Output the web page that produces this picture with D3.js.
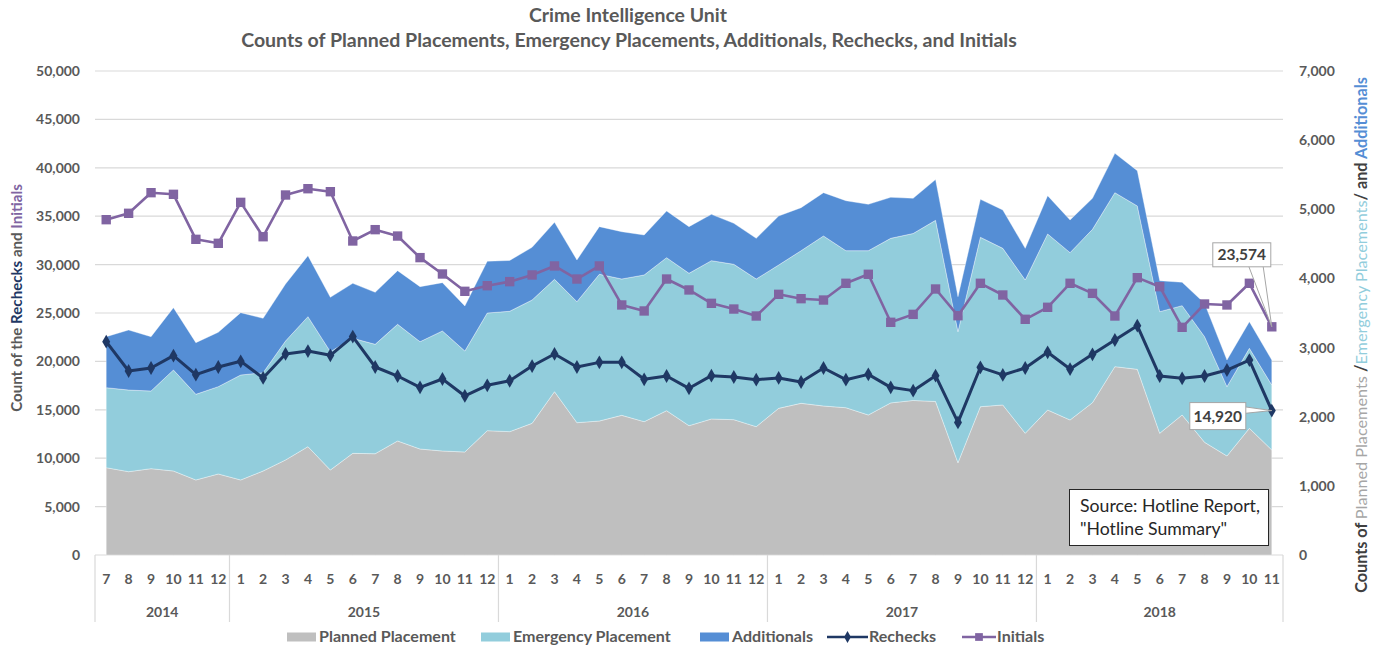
<!DOCTYPE html>
<html><head><meta charset="utf-8">
<script src="https://cdn.jsdelivr.net/npm/d3@7"></script>
<style>body{margin:0;background:#fff;} svg{display:block;font-family:Lato,"Open Sans",sans-serif;}</style>
</head><body><svg id="c" width="1373" height="650"></svg>
<script>
// ---- data ----
const monthLabels = ["7","8","9","10","11","12",
  "1","2","3","4","5","6","7","8","9","10","11","12",
  "1","2","3","4","5","6","7","8","9","10","11","12",
  "1","2","3","4","5","6","7","8","9","10","11","12",
  "1","2","3","4","5","6","7","8","9","10","11"];
const years = ["2014","2015","2016","2017","2018"];
const yearMonthCounts = [6,12,12,12,11];
const leftTicks = [0,5000,10000,15000,20000,25000,30000,35000,40000,45000,50000];
const rightTicks = [0,1000,2000,3000,4000,5000,6000,7000];

const planned = [1263,1205,1249,1215,1085,1172,1085,1215,1374,1567,1229,1470,1465,1649,1533,1504,1490,1798,
  1784,1904,2362,1914,1938,2020,1928,2087,1870,1967,1957,1856,
  2121,2194,2155,2130,2025,2200,2235,2220,1335,2145,2170,1760,
  2097,1953,2203,2724,2685,1760,2025,1630,1432,1832,1519];
const emergency = [1157,1181,1123,1461,1239,1263,1518,1422,1721,1880,1712,1664,1582,1687,1552,1736,1460,1702,
  1741,1784,1625,1750,2122,1972,2122,2213,2204,2290,2247,2136,
  2073,2207,2459,2271,2376,2380,2415,2620,1895,2450,2265,2217,
  2546,2420,2507,2516,2363,1759,1581,1527,1003,1157,940];
const additionals = [737,868,785,901,747,786,902,786,824,882,786,795,752,776,796,699,651,748,
  735,762,825,603,689,684,578,675,675,670,593,588,
  709,622,626,723,671,593,509,590,506,549,555,458,
  554,472,449,569,511,449,338,483,385,386,361];
const rechecks = [22040,19010,19320,20590,18630,19420,20010,18290,20770,21070,20630,22560,19420,18490,17320,18180,16430,17530,
  18000,19520,20770,19420,19900,19900,18150,18490,17220,18530,18390,18110,
  18290,17870,19320,18110,18660,17320,16980,18530,13700,19390,18600,19320,
  20940,19210,20730,22210,23690,18490,18250,18490,19110,20140,14920];
const initials = [34640,35300,37430,37260,32610,32200,36430,32880,37190,37840,37530,32440,33610,32950,30720,29030,27240,27820,
  28240,28930,29860,28510,29860,25830,25210,28510,27380,26000,25410,24690,
  26930,26480,26340,28070,29000,24040,24860,27480,24720,28070,26860,24350,
  25590,28070,27030,24690,28650,27720,23520,25930,25830,28070,23574];

// ---- setup ----
const svg = d3.select("#c");
const P = {l:95, r:1283, t:71, b:555};
const C = {planned:"#bfbfbf", emergency:"#92cddc", additionals:"#558ed5", rechecks:"#1f3864", initials:"#8064a2", text:"#595959", grid:"#d9d9d9"};
const cats = monthLabels.map((m,i)=>i);
const x = d3.scaleBand().domain(cats).range([P.l,P.r]).padding(0);
const cx = i => x(i) + x.bandwidth()/2;
const yL = d3.scaleLinear().domain([0,50000]).range([P.b,P.t]);
const yR = d3.scaleLinear().domain([0,7000]).range([P.b,P.t]);

function fit(sel, target){ const w = sel.node().getComputedTextLength(); const fs = parseFloat(sel.attr("font-size")); sel.attr("font-size", fs*target/w); }

// gridlines
svg.append("g").selectAll("line").data(leftTicks).join("line")
  .attr("x1",P.l).attr("x2",P.r).attr("y1",d=>yL(d)).attr("y2",d=>yL(d))
  .attr("stroke",C.grid).attr("stroke-width",1.2);

// stacked areas
const rows = cats.map(i=>({planned:planned[i], emergency:emergency[i], additionals:additionals[i]}));
const keys = ["planned","emergency","additionals"];
const series = d3.stack().keys(keys)(rows);
const area = d3.area().x((d,i)=>cx(i)).y0(d=>yR(d[0])).y1(d=>yR(d[1]));
svg.append("g").selectAll("path").data(series).join("path")
  .attr("d",area).attr("fill",d=>C[d.key])
  .attr("stroke","#ffffff").attr("stroke-opacity",0.45).attr("stroke-width",0.8);

// axes
const gl = svg.append("g").attr("transform",`translate(${P.l},0)`)
  .call(d3.axisLeft(yL).tickValues(leftTicks).tickSize(0).tickPadding(15).tickFormat(d3.format(",")));
const gr = svg.append("g").attr("transform",`translate(${P.r},0)`)
  .call(d3.axisRight(yR).tickValues(rightTicks).tickSize(0).tickPadding(16).tickFormat(d3.format(",")));
const gb = svg.append("g").attr("transform",`translate(0,${P.b})`)
  .call(d3.axisBottom(x).tickSize(0).tickPadding(19).tickFormat(i=>monthLabels[i]));
[gl,gr,gb].forEach(g=>{ g.select(".domain").remove();
  g.selectAll("text").attr("font-family","Lato").attr("font-weight","bold").attr("font-size",14).attr("fill",C.text); });

// year group separators and labels
let starts=[0]; yearMonthCounts.forEach((n,k)=>starts.push(starts[k]+n));
const bw = x.bandwidth();
svg.append("g").selectAll("line").data(starts).join("line")
  .attr("x1",d=>d<cats.length?x(d):x(cats.length-1)+bw).attr("x2",d=>d<cats.length?x(d):x(cats.length-1)+bw)
  .attr("y1",P.b).attr("y2",622).attr("stroke",C.grid).attr("stroke-width",1.2);
svg.append("g").selectAll("text").data(years).join("text")
  .attr("x",(d,k)=>(x(starts[k]) + (starts[k+1]<cats.length? x(starts[k+1]) : x(cats.length-1)+bw))/2)
  .attr("y",617).attr("text-anchor","middle").attr("font-weight","bold").attr("font-size",14).attr("fill",C.text).text(d=>d);

// lines
const line = d3.line().x((d,i)=>cx(i)).y(d=>yL(d));
svg.append("path").datum(rechecks).attr("d",line).attr("fill","none").attr("stroke",C.rechecks).attr("stroke-width",3).attr("stroke-linejoin","round");
svg.append("g").selectAll("path").data(rechecks).join("path")
  .attr("transform",(d,i)=>`translate(${cx(i)},${yL(d)})`)
  .attr("d",d3.symbol(d3.symbolDiamond,55)).attr("fill",C.rechecks);
svg.append("path").datum(initials).attr("d",line).attr("fill","none").attr("stroke",C.initials).attr("stroke-width",2.6).attr("stroke-linejoin","round");
svg.append("g").selectAll("path").data(initials).join("path")
  .attr("transform",(d,i)=>`translate(${cx(i)},${yL(d)})`)
  .attr("d",d3.symbol(d3.symbolSquare,88)).attr("fill",C.initials);

// data label callouts
const last = cats.length-1, lx = cx(last);
function callout(bx0,by0,bx1,by1,tri,label){
  const g = svg.append("g");
  g.append("path").attr("d",d3.line()(tri)+"Z").attr("fill","#fff").attr("stroke","#a6a6a6").attr("stroke-width",1);
  g.append("rect").attr("x",bx0).attr("y",by0).attr("width",bx1-bx0).attr("height",by1-by0).attr("fill","#fff").attr("stroke","#a6a6a6").attr("stroke-width",1);
  g.append("text").attr("x",(bx0+bx1)/2).attr("y",(by0+by1)/2+5.5).attr("text-anchor","middle")
    .attr("font-weight","bold").attr("font-size",15.5).attr("fill","#404040").text(label);
}
const pyI = yL(initials[last]);
callout(lx-59,pyI-84,lx-1,pyI-60,[[lx-24,pyI-63],[lx-9,pyI-63],[lx,pyI]],d3.format(",")(initials[last]));
const pyR = yL(rechecks[last]);
callout(lx-82,pyR-8,lx-26,pyR+19,[[lx-29,pyR-4],[lx-29,pyR+3],[lx,pyR]],d3.format(",")(rechecks[last]));

// source box
svg.append("rect").attr("x",1069.5).attr("y",489.5).attr("width",199).attr("height",56).attr("fill","#fff").attr("stroke","#262626").attr("stroke-width",1);
const s1 = svg.append("text").attr("x",1080).attr("y",512).attr("font-size",14).attr("fill","#262626").text("Source: Hotline Report,");
fit(s1,180);
svg.append("text").attr("x",1080).attr("y",535).attr("font-size",s1.attr("font-size")).attr("fill","#262626").text("\"Hotline Summary\"");

// titles
const t1 = svg.append("text").attr("x",628).attr("y",22).attr("text-anchor","middle").attr("font-weight","bold").attr("font-size",16).attr("fill",C.text).text("Crime Intelligence Unit");
fit(t1,198);
const t2 = svg.append("text").attr("x",629).attr("y",47).attr("text-anchor","middle").attr("font-weight","bold").attr("font-size",16).attr("fill",C.text).text("Counts of Planned Placements, Emergency Placements, Additionals, Rechecks, and Initials");
fit(t2,776);

// left axis title
const lt = svg.append("text").attr("transform","translate(17,298) rotate(-90)").attr("text-anchor","middle").attr("dy","0.35em")
  .attr("font-weight","bold").attr("font-size",13);
[["Count of the ",C.text],["Rechecks",C.rechecks],[" and ",C.text],["Initials",C.initials]].forEach(([t,c])=>lt.append("tspan").attr("fill",c).text(t));
fit(lt,228);

// right axis title
const rt = svg.append("text").attr("transform","translate(1361,335) rotate(-90)").attr("text-anchor","middle").attr("dy","0.35em")
  .attr("font-size",14);
[["Counts of ","#404040","bold"],["Planned Placements ","#a6a6a6","normal"],["/","#404040","bold"],["Emergency Placements","#92cddc","normal"],["/ and ","#404040","bold"],["Additionals","#558ed5","bold"]]
  .forEach(([t,c,w])=>rt.append("tspan").attr("fill",c).attr("font-weight",w).text(t));
fit(rt,516);

// legend
const lg = svg.append("g");
const ly = 637;
const legItems = [
  {name:"Planned Placement", type:"rect", color:C.planned, sx:287, tx:319},
  {name:"Emergency Placement", type:"rect", color:C.emergency, sx:481, tx:513},
  {name:"Additionals", type:"rect", color:C.additionals, sx:700, tx:732},
  {name:"Rechecks", type:"line", sym:d3.symbolDiamond, ss:40, color:C.rechecks, sx:827, tx:869},
  {name:"Initials", type:"line", sym:d3.symbolSquare, ss:60, color:C.initials, sx:962, tx:997}
];
let legFs = 14;
legItems.forEach((it,k)=>{
  if(it.type==="rect"){
    lg.append("rect").attr("x",it.sx).attr("y",ly-4.5).attr("width",29).attr("height",9).attr("fill",it.color);
  } else {
    lg.append("line").attr("x1",it.sx).attr("x2",it.tx-1).attr("y1",ly).attr("y2",ly).attr("stroke",it.color).attr("stroke-width",2.5);
    lg.append("path").attr("transform",`translate(${(it.sx+it.tx-1)/2},${ly})`).attr("d",d3.symbol(it.sym,it.ss)).attr("fill",it.color);
  }
  const t = lg.append("text").attr("x",it.tx).attr("y",ly+5).attr("font-weight","bold").attr("font-size",legFs).attr("fill",C.text).text(it.name);
  if(k===0){ fit(t,137); legFs = parseFloat(t.attr("font-size")); }
});
</script></body></html>
